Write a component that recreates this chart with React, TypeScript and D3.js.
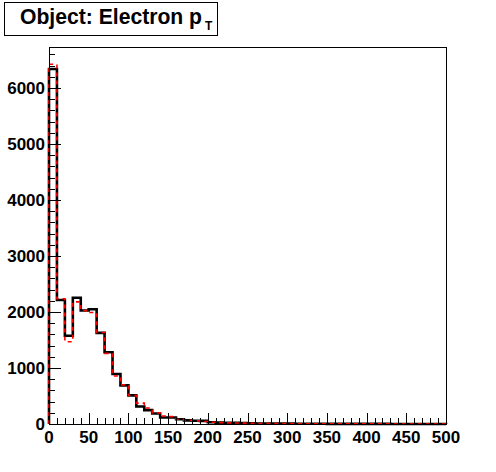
import React from "react";
import * as d3 from "d3";

const binEdges: number[] = d3.range(0, 510, 10);
const blackCounts: number[] = [6340, 2214, 1575, 2254, 2028, 2048, 1628, 1280, 893, 690, 512, 312, 248, 188, 117, 117, 86, 65, 59, 56, 30, 25, 20, 20, 15, 12, 10, 9, 8, 7, 6, 5, 5, 4, 4, 3, 3, 3, 2, 2, 2, 2, 2, 1, 1, 1, 1, 1, 1, 1];
const redCounts: number[] = [6425, 2236, 1470, 2180, 2024, 1990, 1634, 1262, 857, 698, 510, 372, 285, 198, 143, 131, 86, 68, 55, 44, 30, 24, 20, 18, 15, 12, 10, 9, 8, 7, 6, 5, 5, 4, 4, 3, 3, 3, 2, 2, 2, 2, 2, 1, 1, 1, 1, 1, 1, 1];
const xTickLabels: number[] = [0, 50, 100, 150, 200, 250, 300, 350, 400, 450, 500];
const yTickLabels: number[] = [0, 1000, 2000, 3000, 4000, 5000, 6000];

const W = 496, H = 472;
const L = 49, R = 446, T = 47, B = 424;

export default function App() {
  const x = d3.scaleLinear().domain([0, 500]).range([L, R]);
  const y = d3.scaleLinear().domain([0, 6732]).range([B, T]);
  const line = d3.line<[number, number]>().x(d => x(d[0])).y(d => y(d[1]));

  const stepPts = (vals: number[]): [number, number][] => {
    const pts: [number, number][] = [[binEdges[0], 0]];
    vals.forEach((v, i) => {
      pts.push([binEdges[i], v]);
      pts.push([binEdges[i + 1], v]);
    });
    pts.push([binEdges[vals.length], 0]);
    return pts;
  };

  const xMinor = d3.range(0, 501, 10);
  const yMinor = d3.range(0, 6732, 200);
  const font = "'Liberation Sans', Arial, Helvetica, sans-serif";

  return (
    <svg width={W} height={H} style={{ position: "absolute", left: 0, top: 0, background: "#fff" }} fontFamily={font}>
      <rect x={0} y={0} width={W} height={H} fill="#fff" />
      {/* title box */}
      <rect x={4.5} y={2.5} width={213} height={33} fill="#fff" stroke="#000" strokeWidth={1} />
      <text x={20} y={24} fontSize={22} fontWeight="bold" fill="#000">
        <tspan textLength={182} lengthAdjust="spacingAndGlyphs">Object: Electron p</tspan>
        <tspan x={205} y={30} fontSize={12}>T</tspan>
      </text>

      {/* histograms */}
      <path d={line(stepPts(blackCounts)) || ""} fill="none" stroke="#000" strokeWidth={2.6} />
      <path d={line(stepPts(redCounts)) || ""} fill="none" stroke="#ff0000" strokeWidth={1.6} strokeDasharray="4,4" />

      {/* frame */}
      <rect x={L + 0.5} y={T + 0.5} width={R - L} height={B - T} fill="none" stroke="#000" strokeWidth={1} shapeRendering="crispEdges" />

      {/* ticks */}
      <g shapeRendering="crispEdges" stroke="#000" strokeWidth={1}>
        {xMinor.map(v => {
          const major = v % 50 === 0;
          const px = Math.round(x(v)) + 0.5;
          return <line key={"xt" + v} x1={px} x2={px} y1={B} y2={B - (major ? 11 : 6)} />;
        })}
        {yMinor.map(v => {
          const major = v % 1000 === 0;
          const py = Math.round(y(v)) + 0.5;
          return <line key={"yt" + v} x1={L} x2={L + (major ? 12 : 6)} y1={py} y2={py} />;
        })}
      </g>

      {/* x labels */}
      {xTickLabels.map(v => (
        <text key={"xl" + v} x={x(v)} y={443} textAnchor="middle" fontSize={17} fontWeight="bold" fill="#000">{v}</text>
      ))}
      {/* y labels */}
      {yTickLabels.map(v => (
        <text key={"yl" + v} x={45} y={y(v) + 6} textAnchor="end" fontSize={17} fontWeight="bold" fill="#000">{v}</text>
      ))}
    </svg>
  );
}
